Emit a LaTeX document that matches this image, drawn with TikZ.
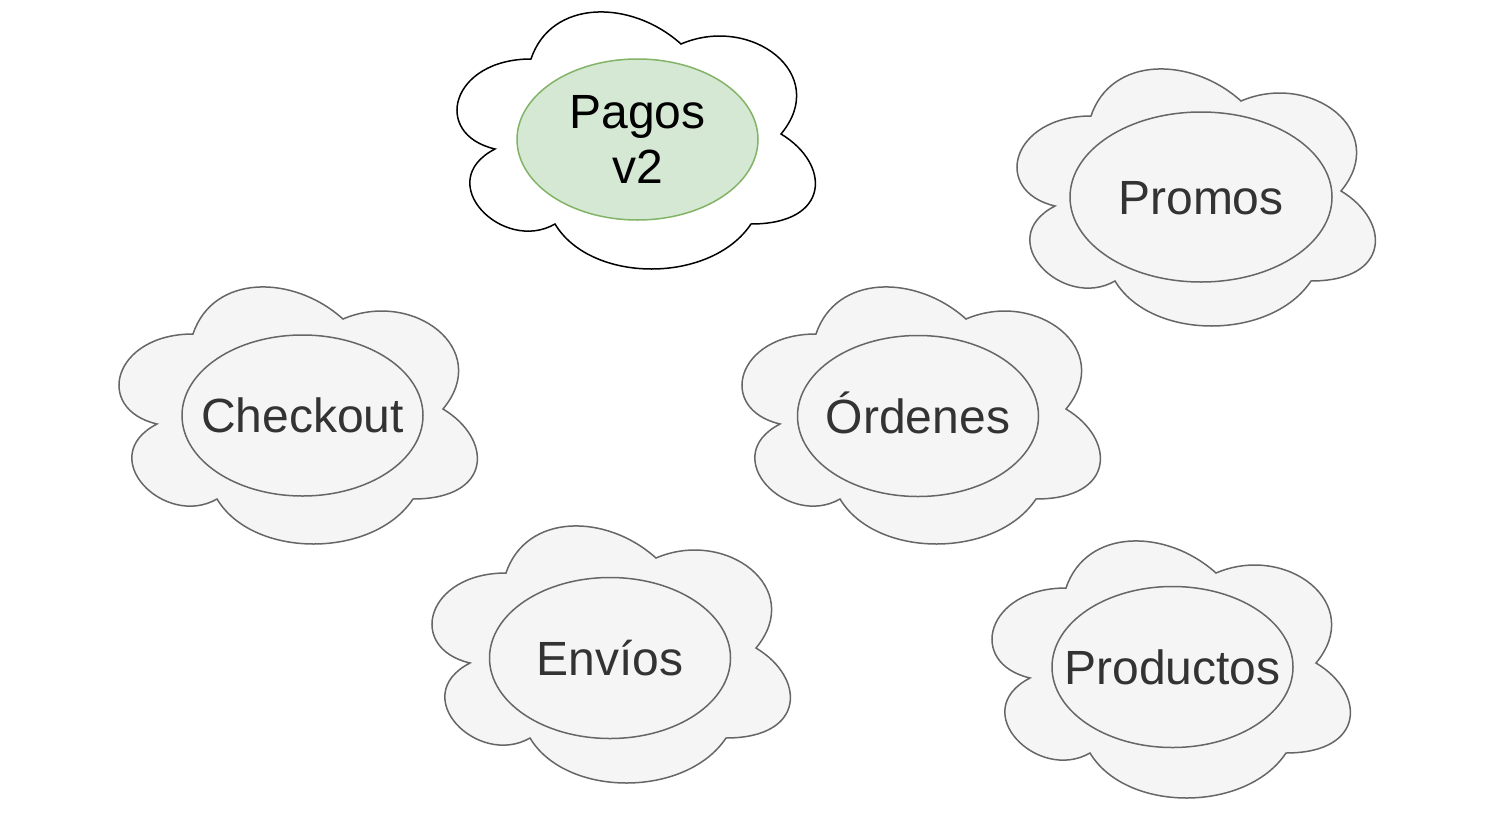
\documentclass[tikz,border=0pt]{standalone}
\usepackage{fontspec}
\setmainfont{Liberation Sans}
\usepackage{tikz}
\usetikzlibrary{positioning, shapes.geometric, calc}
\definecolor{cFill}{HTML}{F5F5F5}
\definecolor{cEdge}{HTML}{666666}
\definecolor{cText}{HTML}{333333}
\definecolor{cGreen}{HTML}{D5E8D4}
\definecolor{cGreenEdge}{HTML}{82B366}

\begin{document}
\begin{tikzpicture}[
  x=1pt, y=-1pt,
  line width=1.5pt,
  oldcloud/.style={draw=cEdge, fill=cFill},
  newcloud/.style={draw=black, fill=white},
  pics/svccloud/.style={code={
    \draw[#1] (-100,-75)
      .. controls (-180,-75) and (-200,0) .. (-136,15)
      .. controls (-200,48) and (-128,120) .. (-76,90)
      .. controls (-40,150) and (80,150) .. (120,90)
      .. controls (200,90) and (200,30) .. (150,0)
      .. controls (200,-60) and (120,-120) .. (50,-90)
      .. controls (0,-135) and (-80,-135) .. (-100,-75) -- cycle;
  }},
  svc/.style={
    ellipse, draw=cEdge, fill=cFill, text=cText,
    minimum width=241pt, minimum height=161pt,
    inner xsep=-60pt, inner ysep=0pt,
    text height=34.5pt, text depth=0pt,
    font=\fontsize{48}{55}\selectfont, align=center
  },
  newsvc/.style={
    svc, draw=cGreenEdge, fill=cGreen, text=black,
    text height=, text depth=
  },
]
\useasboundingbox (0,0) rectangle (1496,822);

% Pagos v2
\pic at (631,134) {svccloud=newcloud};
\node[newsvc] (pagos) at (637.5,139.5) {Pagos\\v2};

% Promos
\pic at (1191,191) {svccloud=oldcloud};
\node[svc, minimum width=262pt, minimum height=170pt] (promos)
  at (1201,197) {Promos};

% Checkout
\pic at (293,409) {svccloud=oldcloud};
\node[svc] (checkout) at (302.5,415.5) {Checkout};

% Ordenes
\pic at (916,409) {svccloud=oldcloud};
\node[svc] (ordenes) at (918,416) {Órdenes};

% Envios
\pic at (606,648) {svccloud=oldcloud};
\node[svc] (envios) at (610,658) {Envíos};

% Productos
\pic at (1166,663) {svccloud=oldcloud};
\node[svc] (productos) at (1172.5,667) {Productos};

\end{tikzpicture}
\end{document}
